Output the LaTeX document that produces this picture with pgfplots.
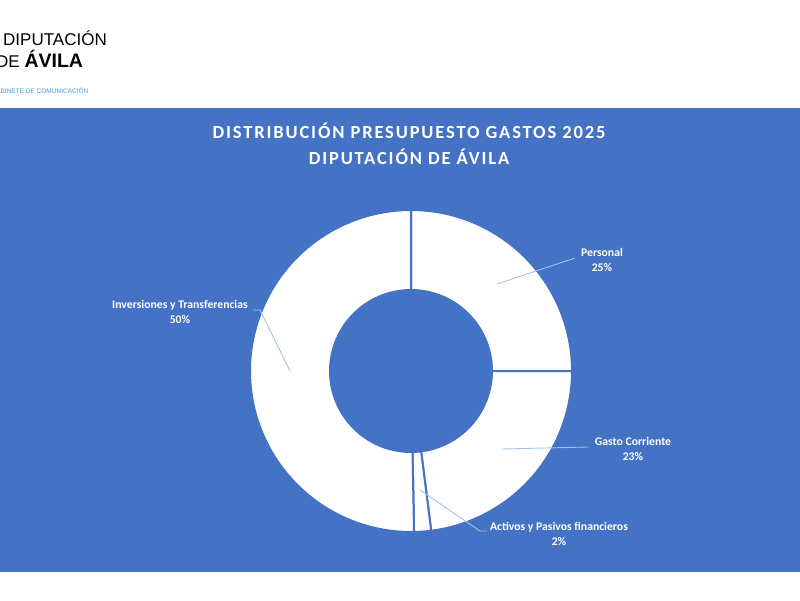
\documentclass[border=0pt]{standalone}
\usepackage{pgfplots}
\usepackage{pgfplotstable}
\pgfplotsset{compat=1.18}
\usepackage{fontspec}
\setmainfont{Carlito}
\newfontfamily\logofont{Liberation Sans}
\definecolor{bg}{HTML}{4472C4}
\definecolor{lead}{HTML}{A9C0E8}
\definecolor{logoblue}{HTML}{3C9BE0}

\pgfplotstableread{
name value
Personal 25.0
Gasto 23.0
Activos 1.7
Inversiones 50.3
}\datatable
\pgfplotstablegetelem{0}{value}\of\datatable \let\vA\pgfplotsretval
\pgfplotstablegetelem{1}{value}\of\datatable \let\vB\pgfplotsretval
\pgfplotstablegetelem{2}{value}\of\datatable \let\vC\pgfplotsretval
\pgfplotstablegetelem{3}{value}\of\datatable \let\vD\pgfplotsretval
\pgfmathsetmacro\aZero{90}
\pgfmathsetmacro\aOne{\aZero-3.6*\vA}
\pgfmathsetmacro\aTwo{\aOne-3.6*\vB}
\pgfmathsetmacro\aThree{\aTwo-3.6*\vC}
\pgfmathsetmacro\aFour{\aThree-3.6*\vD}

\newcommand\slice[2]{%
  \addplot[fill=white, draw=bg, line width=2pt, domain=#1:#2, samples=90, variable=\t]
    ({411+161*cos(\t)},{371-161*sin(\t)}) -- (axis cs:411,371) -- cycle;}

\begin{document}
\begin{tikzpicture}
\begin{axis}[at={(0,0)}, anchor=south west, scale only axis,
  width=800pt, height=600pt, xmin=0, xmax=800, ymin=0, ymax=600,
  y dir=reverse, hide axis, clip=true]
% white page and blue panel
\addplot[fill=white, draw=none] coordinates {(0,0) (800,0) (800,600) (0,600)} -- cycle;
\addplot[fill=bg, draw=none] coordinates {(0,108) (800,108) (800,572) (0,572)} -- cycle;
% donut slices
\slice{\aOne}{\aZero}
\slice{\aTwo}{\aOne}
\slice{\aThree}{\aTwo}
\slice{\aFour}{\aThree}
\addplot[fill=bg, draw=none, domain=0:360, samples=120, variable=\t]
  ({411+82*cos(\t)},{371-82*sin(\t)}) -- cycle;
% leader lines
\addplot[lead, line width=0.9pt] coordinates {(575,258) (497,284)};
\addplot[lead, line width=0.9pt] coordinates {(588,447) (502,449)};
\addplot[lead, line width=0.9pt] coordinates {(487,531) (480,531) (420,490)};
\addplot[lead, line width=0.9pt] coordinates {(253,310) (260,310) (290,371)};
% data labels
\begin{scope}[every node/.style={text=white, align=center, font=\bfseries\fontsize{11.7}{15}\selectfont}]
\node at (axis cs:602,260) {Personal\\25\%};
\node at (axis cs:633,449) {Gasto Corriente\\23\%};
\node at (axis cs:559,534) {Activos y Pasivos financieros\\2\%};
\node at (axis cs:180,312) {Inversiones y Transferencias\\50\%};
\end{scope}
% title
\node[text=white, align=center, font=\bfseries\fontsize{18.5}{26}\selectfont\addfontfeatures{LetterSpace=10}]
  at (axis cs:409,144) {DISTRIBUCIÓN PRESUPUESTO GASTOS 2025\\DIPUTACIÓN DE ÁVILA};
% logo
\node[anchor=base west, inner sep=0pt, font=\logofont\fontsize{17}{17}\selectfont] at (axis cs:3,45) {DIPUTACIÓN};
\node[anchor=base west, inner sep=0pt, font=\logofont\fontsize{17}{17}\selectfont] at (axis cs:-4,67) {DE {\fontsize{19.5}{19.5}\selectfont\bfseries ÁVILA}};
\node[anchor=base west, inner sep=0pt, text=logoblue, font=\logofont\fontsize{6.5}{7}\selectfont] at (axis cs:-9,93) {GABINETE DE COMUNICACIÓN};
\end{axis}
\pgfresetboundingbox
\useasboundingbox (0,0) rectangle (800pt,600pt);
\end{tikzpicture}
\end{document}
